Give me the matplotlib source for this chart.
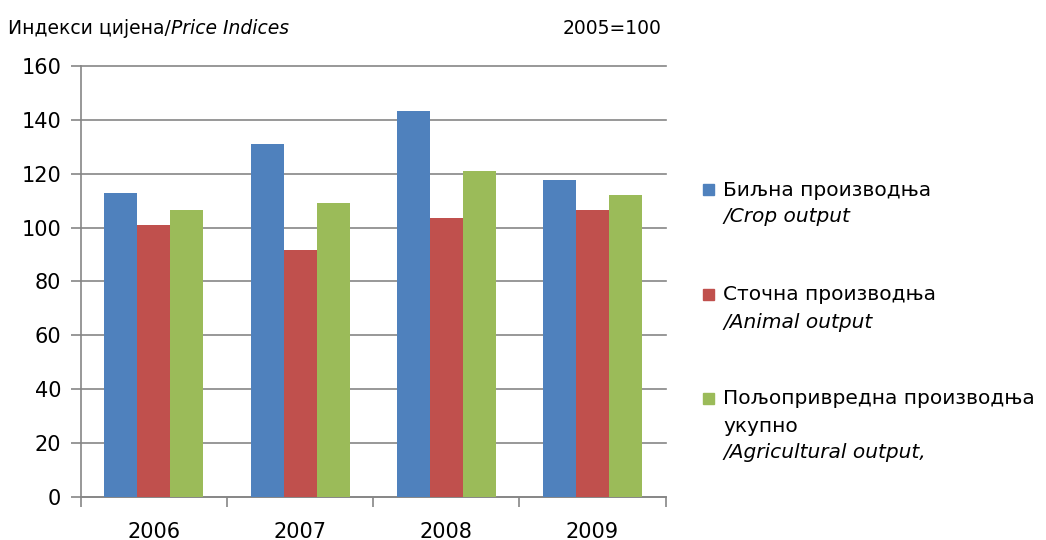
import numpy as np
import matplotlib.pyplot as plt
from matplotlib.patches import Rectangle

years = ["2006", "2007", "2008", "2009"]
crop = [112.8, 131.1, 143.4, 117.7]
animal = [101.0, 91.7, 103.6, 106.6]
total = [106.6, 109.2, 121.1, 112.2]
y_ticks = [0, 20, 40, 60, 80, 100, 120, 140, 160]

series = [
    (crop, '#4f81bd', "Биљна производња", ["/Crop output"]),
    (animal, '#c0504d', "Сточна производња", ["/Animal output"]),
    (total, '#9bbb59', "Пољопривредна производња", ["укупно", "/Agricultural output,"]),
]

plt.rcParams['font.family'] = ['DejaVu Sans']
fig = plt.figure(figsize=(10.46, 5.40), dpi=100)
ax = fig.add_axes([0.0772, 0.0802, 0.5592, 0.7976])

x = np.arange(len(years))
bw = 0.2256
for i, (vals, color, _, _) in enumerate(series):
    ax.bar(x + (i - 1) * bw, vals, width=bw, color=color, zorder=3)

ax.set_xlim(-0.5, len(years) - 0.5)
ax.set_ylim(0, 160)
ax.set_yticks(y_ticks)
ax.set_yticklabels([str(v) for v in y_ticks], fontsize=15)
ax.yaxis.grid(True, color='#868686', linewidth=1.2, zorder=0, clip_on=False)
ax.set_xticks(x)
ax.set_xticklabels(years, fontsize=15)
ax.tick_params(axis='x', length=0, pad=18)
ax.set_xticks(np.arange(-0.5, len(years)), minor=True)
ax.tick_params(axis='x', which='minor', length=7, width=1.2, color='#868686')
ax.tick_params(axis='y', length=7, width=1.2, color='#868686', pad=7)
for s in ['top', 'right']:
    ax.spines[s].set_visible(False)
for s in ['left', 'bottom']:
    ax.spines[s].set_color('#868686')
    ax.spines[s].set_linewidth(1.2)

# headers
t = fig.text(8 / 1046, 1 - 28 / 540, "Индекси цијена/", fontsize=13.5, va='center', ha='left')
fig.canvas.draw()
bb = t.get_window_extent()
fig.text(bb.x1 / 1046, 1 - 28 / 540, "Price Indices", fontsize=13.5, style='italic',
         va='center', ha='left')
fig.text(662 / 1046, 1 - 28 / 540, "2005=100", fontsize=13.5, va='center', ha='right')

# legend
leg_y = [190, 295, 399]
for (vals, color, name, extra), yy in zip(series, leg_y):
    fig.patches.append(Rectangle((703 / 1046, 1 - (yy + 5) / 540), 11 / 1046, 11 / 540,
                                 transform=fig.transFigure, color=color, figure=fig))
    fig.text(723 / 1046, 1 - yy / 540, name, fontsize=14.5, va='center', ha='left')
    for k, line in enumerate(extra):
        italic = line.startswith('/')
        fig.text(723 / 1046, 1 - (yy + 27 * (k + 1)) / 540, line, fontsize=14.5,
                 va='center', ha='left', style='italic' if italic else 'normal')

fig.savefig("out.png", dpi=100)
